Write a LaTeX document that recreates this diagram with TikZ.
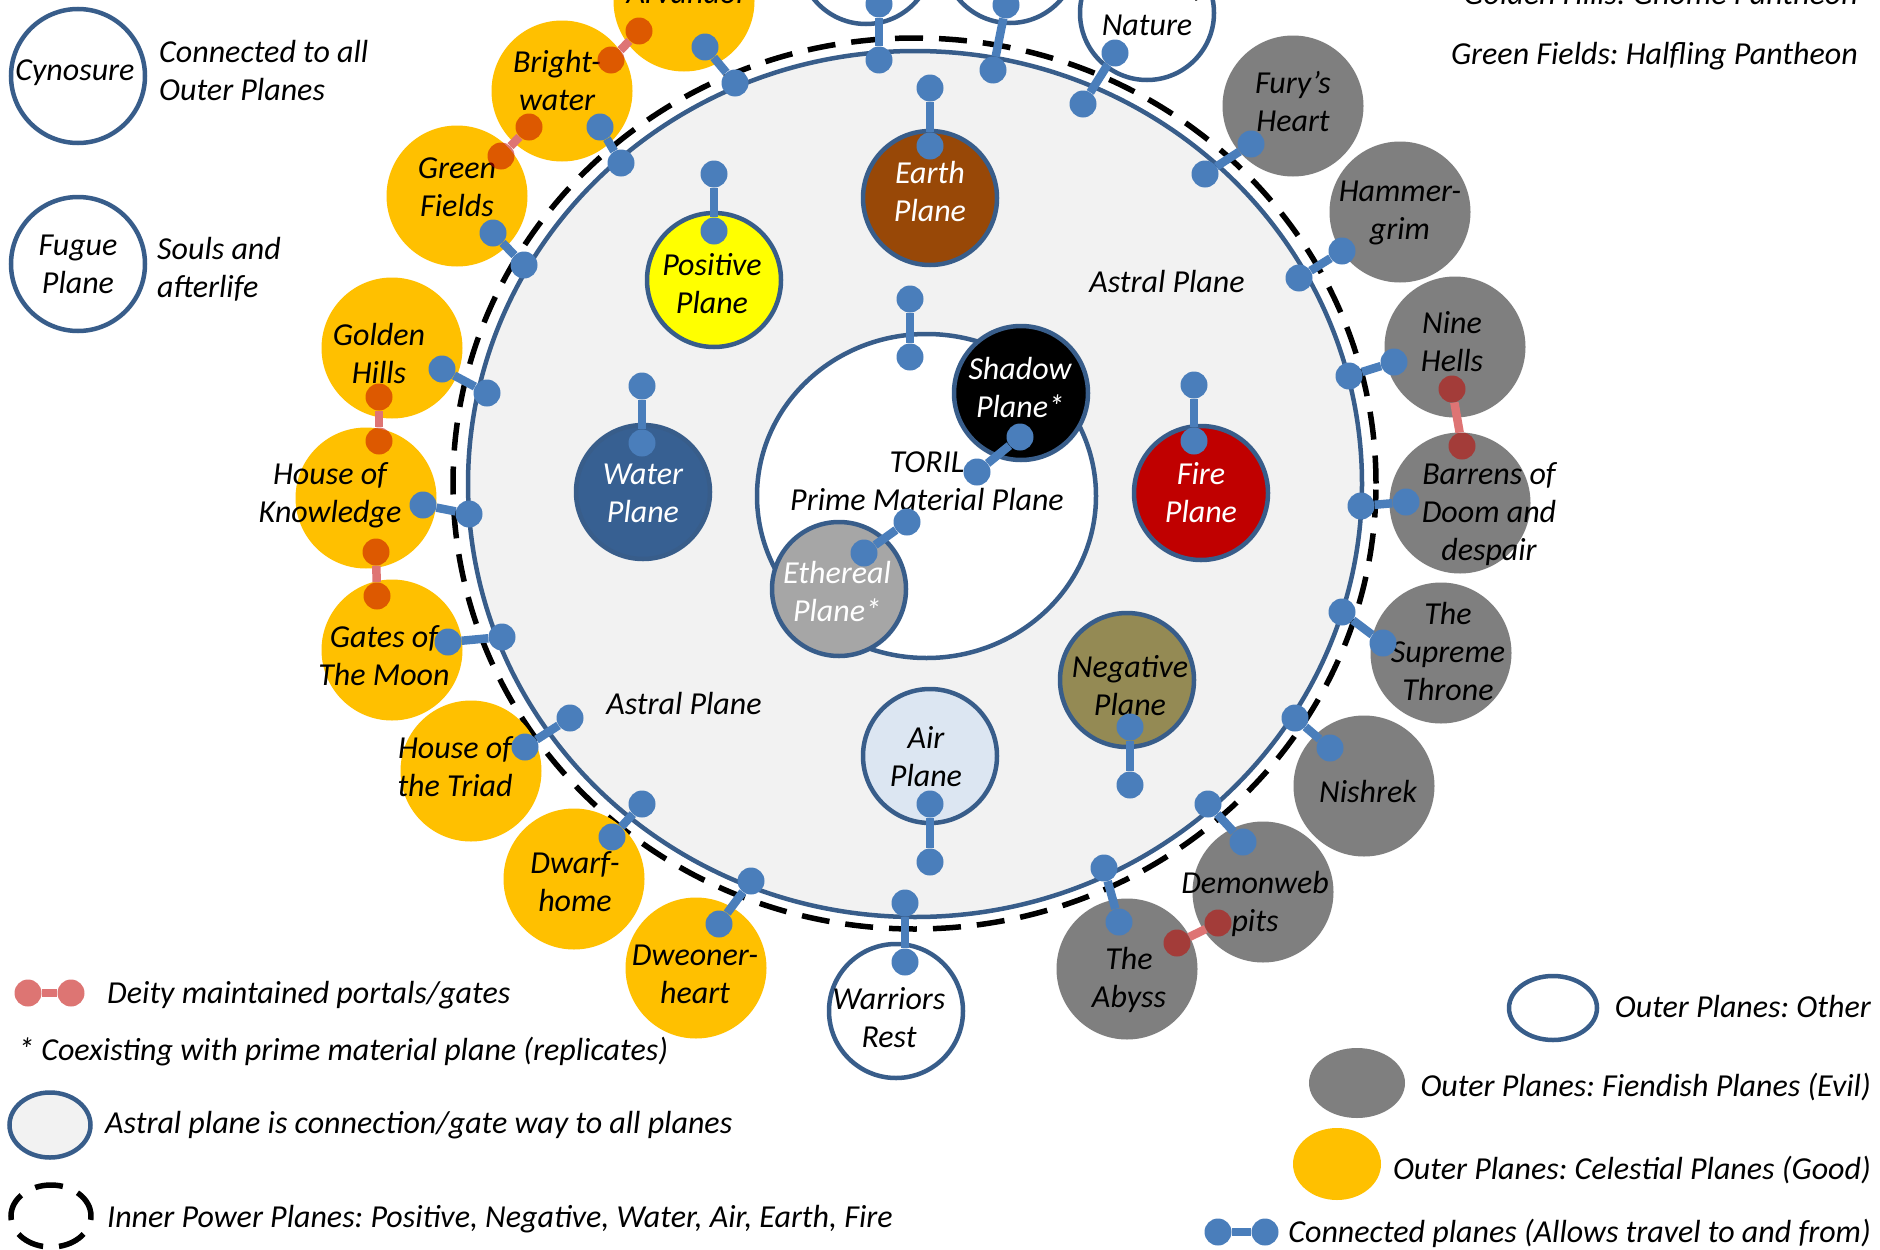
\documentclass[tikz,border=0pt]{standalone}
\usepackage{fontspec}
\setmainfont{Carlito}
\usetikzlibrary{shapes.geometric}
\frenchspacing
\definecolor{bord}{HTML}{385D8A}
\definecolor{conn}{HTML}{4A7EBB}
\definecolor{astralfill}{HTML}{F2F2F2}
\definecolor{cel}{HTML}{FFC000}
\definecolor{fie}{HTML}{7F7F7F}
\definecolor{earthc}{HTML}{984807}
\definecolor{posc}{HTML}{FFFF00}
\definecolor{waterc}{HTML}{376092}
\definecolor{firec}{HTML}{C00000}
\definecolor{negc}{HTML}{948A54}
\definecolor{airc}{HTML}{DCE6F2}
\definecolor{etherc}{HTML}{A6A6A6}
\definecolor{deity}{HTML}{C20500}
\definecolor{deitybar}{HTML}{DE7474}
\newcommand\pfont{\fontsize{32}{38}\selectfont\itshape\frenchspacing}
\newcommand\bconn[3]{\node[bdot] (#1a) at (#2) {}; \node[bdot] (#1b) at (#3) {}; \draw[bbar] (#1a) -- (#1b);}
\newcommand\rconn[3]{\node[rdot] (#1a) at (#2) {}; \node[rdot] (#1b) at (#3) {}; \draw[rbar] (#1a) -- (#1b);}
\begin{document}
\begin{tikzpicture}[x=1pt,y=-1pt,
  innerpl/.style={circle, inner sep=0pt, minimum size=134pt, draw=bord, line width=4.5pt},
  outerpl/.style={circle, inner sep=0pt, minimum size=141pt},
  celestial/.style={outerpl, fill=cel},
  fiend/.style={outerpl, fill=fie},
  otherpl/.style={circle, inner sep=0pt, minimum size=134pt, draw=bord, line width=4.5pt, fill=white},
  lbl/.style={align=center, inner sep=0pt, font=\pfont},
  wlbl/.style={lbl, text=white},
  legtxt/.style={inner sep=0pt, font=\pfont},
  bdot/.style={circle, fill=conn, inner sep=0pt, minimum size=27pt},
  rdot/.style={circle, fill=deity, fill opacity=0.55, inner sep=0pt, minimum size=27pt},
  bbar/.style={draw=conn, line width=8.5pt},
  rbar/.style={draw=deitybar, line width=8.5pt},
  dashring/.style={draw=black, line width=5.5pt, dash pattern=on 28pt off 16pt},
]
\useasboundingbox (0,0) rectangle (1880,1250);
\fill[white] (0,0) rectangle (1880,1250);
\begin{scope}
\clip (0,0) rectangle (1880,1250);

% inner power ring and astral plane
\node[ellipse, dashring, inner sep=0pt, minimum width=923pt, minimum height=891pt] (ring) at (914.5,483.5) {};
\node[ellipse, draw=bord, line width=4.5pt, fill=astralfill, inner sep=0pt, minimum width=894pt, minimum height=866pt] (astral) at (915,484) {};

% prime material plane
\node[ellipse, draw=bord, line width=4.5pt, fill=white, inner sep=0pt, minimum width=339pt, minimum height=324pt] (toril) at (926.5,496) {};
\node[innerpl, fill=black] (shadow) at (1021,393) {};
\node[innerpl, fill=etherc] (ether) at (839,589) {};

% inner planes
\node[innerpl, fill=earthc] (earth) at (930,198) {};
\node[innerpl, fill=posc] (positive) at (714,280) {};
\node[innerpl, fill=waterc] (water) at (643,492) {};
\node[innerpl, fill=firec] (fire) at (1201,493) {};
\node[innerpl, fill=negc] (negative) at (1127,680) {};
\node[innerpl, fill=airc] (air) at (930,756) {};

% outer planes: celestial
\node[celestial] (arvandor) at (684,1) {};
\node[celestial] (bright) at (562,91) {};
\node[celestial] (green) at (457,196) {};
\node[celestial] (golden) at (392,348) {};
\node[celestial] (hok) at (366,498) {};
\node[celestial] (gates) at (392,650) {};
\node[celestial] (triad) at (471,771) {};
\node[celestial] (dwarf) at (574,879) {};
\node[celestial] (dweo) at (696,968) {};
% outer planes: other
\node[otherpl] (otherA) at (866,-43) {};
\node[otherpl] (otherB) at (1010,-44) {};
\node[otherpl] (nature) at (1147,13) {};
\node[otherpl] (warriors) at (896,1011) {};
% outer planes: fiendish
\node[fiend] (fury) at (1293,106) {};
\node[fiend] (hammer) at (1400,212) {};
\node[fiend] (nine) at (1455,347) {};
\node[fiend] (barrens) at (1460,503) {};
\node[fiend] (supreme) at (1441,653) {};
\node[fiend] (nishrek) at (1364,786) {};
\node[fiend] (demon) at (1263,892) {};
\node[fiend] (abyss) at (1127,969) {};
% legend circles top-left
\node[otherpl] (cyn) at (78,76) {};
\node[otherpl] (fugue) at (78,264) {};

% labels
\node[lbl, anchor=base] (tArv) at (687,3) {Arvandor};
\node[lbl] (tBri) at (557,81) {Bright-\\water};
\node[lbl] (tGre) at (457,187) {Green\\Fields};
\node[lbl] (tGol) at (379,354) {Golden\\Hills};
\node[lbl] (tHok) at (330,495) {House of\\Knowledge};
\node[lbl] (tGat) at (384,656) {Gates of\\The Moon};
\node[lbl] (tTri) at (455,767) {House of\\the Triad};
\node[lbl] (tDwa) at (575,882) {Dwarf-\\home};
\node[lbl] (tDwe) at (695,974) {Dweoner-\\heart};
\node[lbl] (tWar) at (889,1018) {Warriors\\Rest};
\node[lbl] (tAby) at (1129,980) {The\\Abyss};
\node[lbl] (tDem) at (1255,904) {Demonweb\\pits};
\node[lbl] (tNis) at (1368,791) {Nishrek};
\node[lbl] (tSup) at (1448,651) {The\\Supreme\\Throne};
\node[lbl] (tBar) at (1489,514) {Barrens of\\Doom and\\despair};
\node[lbl] (tNin) at (1452,342) {Nine\\Hells};
\node[lbl] (tHam) at (1400,213) {Hammer-\\grim};
\node[lbl] (tFur) at (1293,102) {Fury’s\\Heart};
\node[lbl] (tNat) at (1147,6) {House of\\Nature};
\node[lbl] (tCyn) at (75,73) {Cynosure};
\node[lbl] (tFug) at (78,264) {Fugue\\Plane};
\node[wlbl] (tEar) at (930,191) {Earth\\Plane};
\node[lbl] (tPos) at (712,284) {Positive\\Plane};
\node[wlbl] (tWat) at (643,493) {Water\\Plane};
\node[wlbl] (tFir) at (1201,493) {Fire\\Plane};
\node[lbl] (tNeg) at (1130,686) {Negative\\Plane};
\node[lbl] (tAir) at (926,757) {Air\\Plane};
\node[wlbl] (tSha) at (1020,387) {Shadow\\Plane*};
\node[wlbl] (tEth) at (837,591) {Ethereal\\Plane*};
\node[lbl] (tTor) at (927,481) {TORIL\\Prime Material Plane};
\node[lbl] (tAst1) at (1167,282) {Astral Plane};
\node[lbl] (tAst2) at (684,704) {Astral Plane};

% blue connectors
\bconn{cEar}{930,88}{930,146}
\bconn{cOa}{879,4}{879,60}
\bconn{cOb}{1006,5}{993,70}
\bconn{cNat}{1115,53}{1083,104}
\bconn{cArv}{705,47}{735,83}
\bconn{cBri}{600,127}{621,163}
\bconn{cGre}{493,233}{524,265}
\bconn{cGol}{442,369}{487,393}
\bconn{cHok}{423,505}{469,514}
\bconn{cGat}{448,642}{502,637}
\bconn{cTri}{525,747}{570,718}
\bconn{cDwa}{612,837}{642,804}
\bconn{cDwe}{719,924}{751,881}
\bconn{cWar}{905,903}{905,962}
\bconn{cAby}{1104,868}{1119,922}
\bconn{cDem}{1208,804}{1243,842}
\bconn{cNis}{1295,718}{1330,748}
\bconn{cSup}{1342,612}{1383,643}
\bconn{cBar}{1361,506}{1406,502}
\bconn{cNin}{1349,376}{1394,362}
\bconn{cHam}{1299,278}{1342,251}
\bconn{cFur}{1205,174}{1251,144}
\bconn{cPos}{714,174}{714,231}
\bconn{cWat}{642,386}{642,443}
\bconn{cFir}{1194,385}{1194,441}
\bconn{cNeg}{1130,727}{1130,785}
\bconn{cAir}{930,804}{930,862}
\bconn{cTor}{910,299}{910,357}
\bconn{cSha}{1020,437}{977,472}
\bconn{cEth}{907,522}{864,553}

% deity portals
\rconn{rA}{639,31}{611,60}
\rconn{rB}{529,127}{501,156}
\rconn{rC}{379,397}{379,441}
\rconn{rD}{376,552}{377,596}
\rconn{rE}{1452,389}{1462,446}
\rconn{rF}{1177,943}{1218,923}

% top-left legend text
\node[legtxt, align=left, anchor=base west] (lCyn) at (159,100) {Connected to all\\Outer Planes};
\node[legtxt, align=left, anchor=base west] (lFug) at (157,297) {Souls and\\afterlife};

% top-right notes
\node[legtxt, anchor=base east] (nGol) at (1858,5) {Golden Hills: Gnome Pantheon};
\node[legtxt, anchor=base east] (nGre) at (1858,64) {Green Fields: Halfling Pantheon};

% bottom-left legend
\rconn{lgR}{28,993}{71,993}
\node[legtxt, anchor=base west] (lDei) at (107,1003) {Deity maintained portals/gates};
\node[legtxt, anchor=base west] (lCoe) at (18,1060) {* Coexisting with prime material plane (replicates)};
\node[ellipse, draw=bord, line width=4.5pt, fill=astralfill, inner sep=0pt, minimum width=81pt, minimum height=65pt] (lgAst) at (50,1125) {};
\node[legtxt, anchor=base west] (lAst) at (105,1133) {Astral plane is connection/gate way to all planes};
\node[ellipse, dashring, inner sep=0pt, minimum width=80pt, minimum height=62pt] (lgDash) at (51,1216) {};
\node[legtxt, anchor=base west] (lInn) at (107,1227) {Inner Power Planes: Positive, Negative, Water, Air, Earth, Fire};

% bottom-right legend
\node[ellipse, draw=bord, line width=4.5pt, fill=white, inner sep=0pt, minimum width=88pt, minimum height=64pt] (lgOth) at (1553,1008) {};
\node[legtxt, anchor=base east] (lOth) at (1871,1017) {Outer Planes: Other};
\node[ellipse, fill=fie, inner sep=0pt, minimum width=96pt, minimum height=70pt] (lgFie) at (1357,1083) {};
\node[legtxt, anchor=base east] (lFie) at (1871,1096) {Outer Planes: Fiendish Planes (Evil)};
\node[ellipse, fill=cel, inner sep=0pt, minimum width=88pt, minimum height=72pt] (lgCel) at (1337,1164) {};
\node[legtxt, anchor=base east] (lCel) at (1871,1179) {Outer Planes: Celestial Planes (Good)};
\bconn{lgB}{1218,1232}{1265,1232}
\node[legtxt, anchor=base east] (lCon) at (1871,1242) {Connected planes (Allows travel to and from)};
\end{scope}
\end{tikzpicture}
\end{document}
